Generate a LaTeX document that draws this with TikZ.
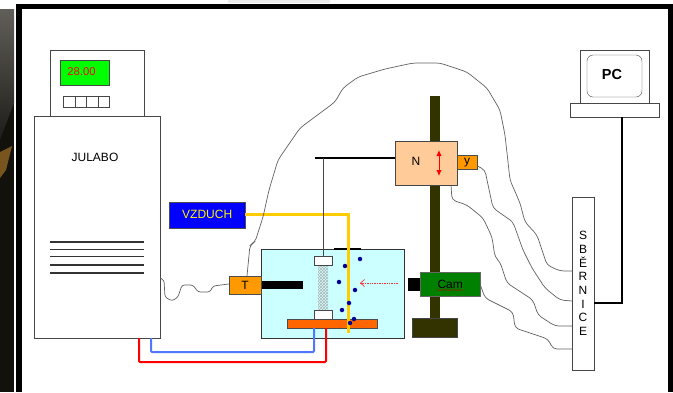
\documentclass[tikz,border=0pt]{standalone}
\usepackage{fontspec}
\setmainfont{Liberation Sans}
\usetikzlibrary{arrows.meta,positioning,patterns,decorations.pathmorphing}
\definecolor{jbgreen}{RGB}{0,255,0}
\definecolor{jbwater}{RGB}{204,255,255}
\definecolor{jborange}{RGB}{255,153,0}
\definecolor{jbplate}{RGB}{255,102,0}
\definecolor{jbpole}{RGB}{51,51,0}
\definecolor{jbcam}{RGB}{0,128,0}
\definecolor{jbpeach}{RGB}{255,204,153}
\definecolor{jbair}{RGB}{255,204,0}
\definecolor{jbblue}{RGB}{80,120,255}
\definecolor{jbline}{RGB}{70,70,70}
\definecolor{jbdot}{RGB}{0,0,150}
\definecolor{jbphototop}{RGB}{98,95,90}
\definecolor{jbphotolow}{RGB}{30,28,24}
\definecolor{jbphotodark}{RGB}{18,17,12}
\definecolor{jbphotoamber}{RGB}{120,85,30}
\tikzset{
  box/.style={draw=jbline, fill=white, line width=0.8pt, inner sep=0pt, outer sep=0pt},
  wire/.style={draw=jbline!85, line width=0.7pt, rounded corners=4pt},
  dot/.style={circle, fill=jbdot, inner sep=0pt, minimum size=4.5pt},
  key/.style={box, minimum width=11.5pt, minimum height=11.5pt}
}
\begin{document}
\begin{tikzpicture}[x=1pt,y=-1pt,font=\fontsize{12}{14}\selectfont]
  \useasboundingbox (0,0) rectangle (673,392);
  % Frame
  \fill[black!8] (228,0) rectangle (330,3);
  \fill[jbphotodark] (0,9) rectangle (14,392);
  \shade[top color=jbphototop, bottom color=jbphotolow] (0,9) -- (14,9) -- (14,103) -- (0,140) -- cycle;
  \fill[jbphotoamber] (0,152) -- (12,146) -- (6,170) -- (0,178) -- cycle;
  \fill[black] (16,4) rectangle (673,392);
  \fill[white] (22,9) rectangle (668,392);
  % Julabo
  \node[box, minimum width=94pt, minimum height=66pt, anchor=north west] (head) at (50,50) {};
  \node[box, fill=jbgreen, minimum width=49pt, minimum height=25pt, anchor=north west] (disp) at (60,60) {};
  \node[text=red, font=\fontsize{11.3}{13}\selectfont] (dval) at (81.5,71.5) {28.00};
  \node[key, anchor=north west] (k1) at (63.5,96) {};
  \foreach \n/\p in {k2/k1,k3/k2,k4/k3} {
    \node[key, right=0pt of \p] (\n) {};
  }
  \node[box, minimum width=125.5pt, minimum height=222pt, anchor=north west] (julabo) at (34.5,116) {};
  \node at (95,157) (jname) {JULABO};
  \foreach \y in {242,249.3,256.7,265,273} {
    \draw[black!80, line width=1.3pt] (50,\y) -- (143.5,\y);
  }
  % Stand
  \node[fill=jbpole, minimum width=9.5pt, minimum height=224pt, inner sep=0pt, anchor=north] (pole) at (434.8,96) {};
  \node[fill=jbpole, draw=jbline, minimum width=45pt, minimum height=19pt, inner sep=0pt] (foot) at (434.5,327.5) {};
  % Tank
  \node[draw=black!80, fill=jbwater, line width=1.1pt, minimum width=143pt, minimum height=89pt,
        inner sep=0pt, anchor=north west] (tank) at (261,249) {};
  \draw[black, line width=1.1pt] (334,249) -- (361,249);
  \node[fill=black, minimum width=42pt, minimum height=8.5pt, inner sep=0pt, anchor=west] (probe) at (261,285) {};
  \node[pattern=crosshatch, pattern color=black!30, minimum width=10pt, minimum height=46pt,
        inner sep=0pt] (mesh) at (323,288) {};
  \node[box, minimum width=18pt, minimum height=9pt] (top) at (323,260.5) {};
  \node[box, minimum width=18pt, minimum height=9pt] (bottom) at (323,314.5) {};
  \node[draw=black!70, fill=jbplate, minimum width=90pt, minimum height=9pt, inner sep=0pt] (plate) at (332,323.5) {};
  % Air
  \node[draw=black!70, fill=blue, text=yellow, minimum width=76pt, minimum height=26pt, inner sep=0pt,
        anchor=north west] (air) at (169,201.5) {VZDUCH};
  \coordinate (airend) at (348,333);
  \draw[jbair, line width=3pt] (air.east) -| (airend);
  % Bubbles
  \foreach \x/\y in {345/266,360/259,339/282,355/290,349/303,342/310,354/319,350/323} {
    \node[dot] at (\x,\y) {};
  }
  \coordinate (arrowstart) at (398,283);
  \coordinate (arrowend) at (360,283);
  \draw[red!80, line width=0.7pt, densely dotted] (arrowstart) -- (arrowend);
  \draw[red!80, line width=0.7pt, -{Straight Barb[length=4pt,width=7pt]}] (364,283) -- (arrowend);
  % Heater lines
  \coordinate (blueout) at (151,338);
  \coordinate (redout) at (139,338);
  \coordinate (bluein) at (314,328);
  \coordinate (redin) at (326,328);
  \draw[jbblue, line width=2pt, rounded corners=1pt] (blueout) |- (314,352) -- (bluein);
  \draw[red, line width=2pt, rounded corners=1pt] (redout) |- (326,362) -- (redin);
  % Temperature sensor
  \node[draw=black!70, fill=jborange, minimum width=32pt, minimum height=18pt, inner sep=0pt] (tsens) at (245,285) {T};
  \draw[wire, rounded corners=2.5pt] (160,278) -- (164,280) -- (165,297) -- (172,301) -- (178,297) -- (182,285)
    -- (193,285) -- (198,292) -- (210,292) -- (213,286) -- (tsens.west |- 0,284);
  % Stage
  \node[draw=jbline, fill=jbpeach, minimum width=62pt, minimum height=44pt, inner sep=0pt, anchor=north west] (stage) at (395,141) {};
  \node (nlabel) at (416,161) {N};
  \coordinate (ntop) at (439,150);
  \coordinate (nbot) at (439,176);
  \draw[red, line width=0.9pt, {Latex[length=6pt,width=5.5pt]}-{Latex[length=6pt,width=5.5pt]}] (ntop) -- (nbot);
  \node[draw=black!70, fill=jborange, minimum width=20pt, minimum height=14pt, inner sep=0pt, anchor=north west] (ysens) at (457,155) {y};
  \coordinate (arm) at (315,158);
  \draw[black, line width=2pt] (stage.west |- arm) -- (arm);
  \draw[jbline, line width=0.8pt] (323,158) -- (top.north);
  % Camera
  \node[draw=black!60, fill=jbcam, minimum width=60pt, minimum height=24pt, inner sep=0pt, anchor=north west] (cam) at (420,272) {Cam};
  \draw[red!70!black, line width=0.4pt, decorate, decoration={snake,amplitude=0.5pt,segment length=2.5pt}] (437,290) -- (463,290);
  \node[fill=black, minimum width=12pt, minimum height=13pt, inner sep=0pt, anchor=east] (lens) at (cam.west) {};
  % Bus and PC
  \node[box, minimum width=22pt, minimum height=173pt, anchor=north west, align=center,
        font=\fontsize{12}{13.7}\selectfont] (bus) at (572,197)
        {S\\B\\Ě\\R\\N\\I\\C\\E};
  \node[box, minimum width=69pt, minimum height=53pt, anchor=north west] (monitor) at (580.5,50) {};
  \node[draw=jbline, fill=white, rounded corners=6pt, minimum width=55pt, minimum height=42pt, inner sep=0pt] (screen) at (614.5,76) {};
  \node[font=\bfseries\fontsize{14.5}{16}\selectfont] (pclabel) at (612,74.5) {PC};
  \node[box, minimum width=89pt, minimum height=14pt, anchor=north west] (base) at (570,103) {};
  \draw[black, line width=1.7pt] (base.south -| 622,0) |- (bus.east |- 0,303);
  % Signal wires
  \draw[wire] (247,276) -- (250,245) -- (255,242) -- (263,217) -- (269,190) -- (278,160) -- (300,128) -- (335,102)
    -- (343,88) -- (358,77) -- (385,69) -- (413,63) -- (440,63) -- (467,72) -- (487,88) -- (500,110) -- (505,135)
    -- (510,180) -- (520,203) -- (525,222) -- (537,235) -- (547,265) -- (560,271) -- (bus.west |- 0,271);
  \draw[wire] (ysens.east |- 0,166) -- (485,170) -- (487,180) -- (493,208) -- (513,222) -- (523,250)
    -- (532,268) -- (545,288) -- (560,300) -- (bus.west |- 0,301);
  \draw[wire] (451,185) -- (452,200) -- (467,205) -- (483,218) -- (492,237) -- (495,257) -- (500,262) -- (507,283)
    -- (533,300) -- (538,315) -- (555,326) -- (bus.west |- 0,326);
  \draw[wire] (cam.east |- 0,285) -- (485,298) -- (513,312) -- (515,328) -- (533,334) -- (548,339) -- (553,349)
    -- (bus.west |- 0,349);
\end{tikzpicture}
\end{document}
